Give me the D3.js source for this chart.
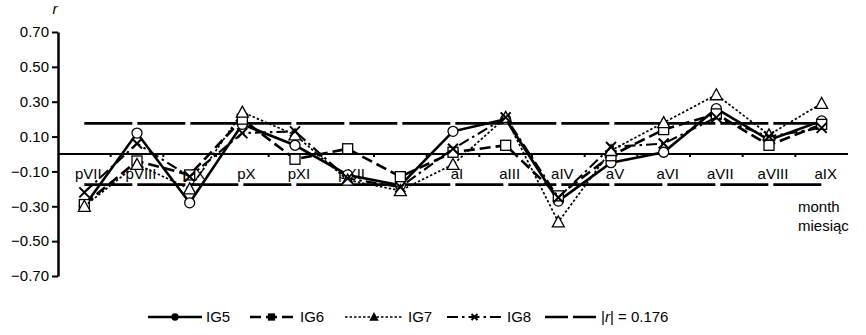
<!DOCTYPE html>
<html><head><meta charset="utf-8">
<script src="https://cdn.jsdelivr.net/npm/d3@7"></script>
<style>body{margin:0;background:#fff}svg{display:block}text{font-family:"Liberation Sans",Arial,sans-serif;fill:#000}</style>
</head><body><svg id="c" width="866" height="335"></svg>
<script>
const categories = ["pVII","pVIII","pIX","pX","pXI","pXII","","aI","aIII","aIV","aV","aVI","aVII","aVIII","aIX"];
const IG5 = [-0.30, 0.12, -0.28, 0.17, 0.05, -0.12, -0.18, 0.13, 0.20, -0.27, -0.05, 0.01, 0.26, 0.08, 0.19];
const IG6 = [-0.29, -0.04, -0.12, 0.20, -0.03, 0.03, -0.13, 0.01, 0.05, -0.24, -0.01, 0.14, 0.23, 0.05, 0.17];
const IG7 = [-0.30, -0.06, -0.20, 0.24, 0.11, -0.15, -0.21, -0.06, 0.21, -0.39, 0.02, 0.18, 0.34, 0.11, 0.29];
const IG8 = [-0.22, 0.06, -0.13, 0.12, 0.13, -0.14, -0.19, 0.03, 0.21, -0.25, 0.04, 0.06, 0.21, 0.10, 0.15];
const rCrit = 0.176;
const yTicks = [-0.70,-0.50,-0.30,-0.10,0.10,0.30,0.50,0.70];

const svg = d3.select("#c");
const x = d3.scaleBand().domain(d3.range(categories.length)).range([58, 848]);
const cx = i => x(i) + x.bandwidth()/2;
const y = d3.scaleLinear().domain([-0.70, 0.70]).range([276, 32]);

// y axis
const ya = svg.append("g").attr("transform","translate(58,0)")
  .call(d3.axisLeft(y).tickValues(yTicks).tickSize(6).tickSizeOuter(0).tickFormat(d3.format(".2f")));
ya.select(".domain").attr("stroke","#000").attr("stroke-width",2.5);
ya.selectAll(".tick line").attr("stroke","#000").attr("stroke-width",2);
ya.selectAll(".tick text").attr("font-size",15).attr("font-family","Liberation Sans, Arial, sans-serif").attr("x",-9);

// zero line with category ticks
svg.append("line").attr("x1",58).attr("x2",848).attr("y1",y(0)).attr("y2",y(0)).attr("stroke","#000").attr("stroke-width",2);
svg.append("g").selectAll("line").data(d3.range(1, categories.length)).join("line")
  .attr("x1",d=>x(d)).attr("x2",d=>x(d)).attr("y1",y(0)).attr("y2",y(0)+3).attr("stroke","#000").attr("stroke-width",2);

// category labels
svg.append("g").selectAll("text").data(categories).join("text")
  .attr("x",(d,i)=>cx(i)+4).attr("y",y(0)+25).attr("text-anchor","middle").attr("font-size",15).text(d=>d);

const line = d3.line().x((d,i)=>cx(i)).y(d=>y(d));

function marker(g, type, px, py, s, fill) {
  fill = fill || "#fff";
  if (type==="circle") g.append("circle").attr("cx",px).attr("cy",py).attr("r",5*s).attr("fill",fill).attr("stroke","#000").attr("stroke-width",1.3);
  else if (type==="square") g.append("rect").attr("x",px-5*s).attr("y",py-5*s).attr("width",10*s).attr("height",10*s).attr("fill",fill).attr("stroke","#000").attr("stroke-width",1.3);
  else if (type==="triangle") g.append("path").attr("d",`M${px},${py-6*s}L${px+6*s},${py+5*s}L${px-6*s},${py+5*s}Z`).attr("fill",fill).attr("stroke","#000").attr("stroke-width",1.3);
  else if (type==="x") g.append("path").attr("d",`M${px-5*s},${py-5*s}L${px+5*s},${py+5*s}M${px+5*s},${py-5*s}L${px-5*s},${py+5*s}`).attr("stroke","#000").attr("stroke-width",2);
}

const series = [
  {name:"IG5", data:IG5, dash:null, w:2.6, m:"circle"},
  {name:"IG6", data:IG6, dash:"11,5", w:2.6, m:"square"},
  {name:"IG7", data:IG7, dash:"2.5,2", w:1.7, m:"triangle"},
  {name:"IG8", data:IG8, dash:"11,4,2.5,4", w:2.1, m:"x"}
];

// threshold lines
[rCrit, -rCrit].forEach(v=>{
  svg.append("path").datum(categories.map(()=>v)).attr("d",line).attr("fill","none")
    .attr("stroke","#000").attr("stroke-width",2.6).attr("stroke-dasharray","48,5");
});

series.forEach(s=>{
  const g = svg.append("g");
  g.append("path").datum(s.data).attr("d",line).attr("fill","none").attr("stroke","#000")
    .attr("stroke-width",s.w).attr("stroke-dasharray",s.dash);
  s.data.forEach((v,i)=>marker(g, s.m, cx(i), y(v), 1));
});

// axis titles
svg.append("text").attr("x",55).attr("y",14).attr("font-size",15).attr("font-style","italic").attr("text-anchor","middle").text("r");
svg.append("text").attr("x",798).attr("y",212).attr("font-size",15).text("month");
svg.append("text").attr("x",798).attr("y",231).attr("font-size",15).text("miesiąc");

// legend
const ly = 317;
const leg = [
  {x1:148,x2:202,tx:206,s:series[0]},
  {x1:250,x2:293,tx:300,s:series[1]},
  {x1:345,x2:403,tx:408,s:series[2]},
  {x1:447,x2:502,tx:507,s:series[3]},
];
leg.forEach(l=>{
  const g = svg.append("g");
  g.append("line").attr("x1",l.x1).attr("x2",l.x2).attr("y1",ly).attr("y2",ly).attr("stroke","#000")
    .attr("stroke-width",l.s.w).attr("stroke-dasharray",l.s.dash);
  marker(g, l.s.m, (l.x1+l.x2)/2, ly, 0.6, "#000");
  g.append("text").attr("x",l.tx).attr("y",ly+5).attr("font-size",15).text(l.s.name);
});
svg.append("line").attr("x1",545).attr("x2",596).attr("y1",ly).attr("y2",ly).attr("stroke","#000").attr("stroke-width",2.6).attr("stroke-dasharray","23,5");
const rt = svg.append("text").attr("x",601).attr("y",ly+5).attr("font-size",15);
rt.append("tspan").text("|");
rt.append("tspan").attr("font-style","italic").text("r");
rt.append("tspan").text("| = 0.176");
</script></body></html>
